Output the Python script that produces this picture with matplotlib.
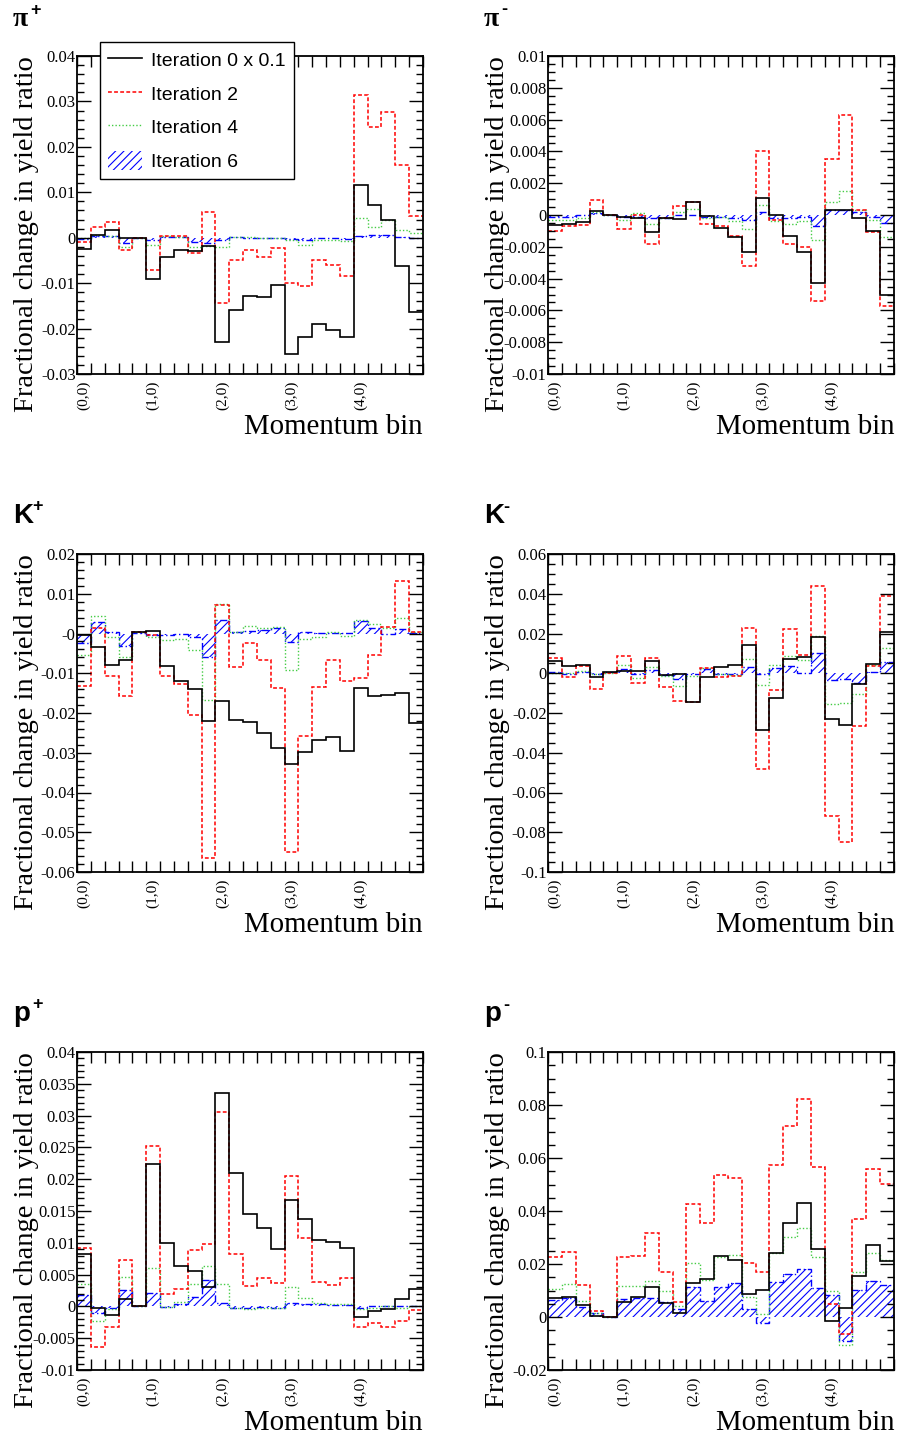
import numpy as np
import matplotlib
matplotlib.use('Agg')
import matplotlib.pyplot as plt
from matplotlib.ticker import MultipleLocator, FixedLocator, FixedFormatter
from matplotlib.patches import Patch
from matplotlib.lines import Line2D

plt.rcParams['hatch.linewidth'] = 0.8

# 25 momentum bins, labels on every fifth bin
edges = np.arange(26)
bin_labels = ['(0,0)', '(1,0)', '(2,0)', '(3,0)', '(4,0)']
label_pos = [0.5, 5.5, 10.5, 15.5, 20.5]

series_names = ['Iteration 0 x 0.1', 'Iteration 2', 'Iteration 4', 'Iteration 6']

# pi+
pip_it0 = [-0.0025, 0.0005, 0.0017, 0.0, 0.0, -0.0091, -0.0042, -0.0026, -0.003, -0.0018,
           -0.0229, -0.0159, -0.0129, -0.0131, -0.0103, -0.0255, -0.0218, -0.0189, -0.0203, -0.0218,
           0.0115, 0.0073, 0.004, -0.0062, -0.0163]
pip_it2 = [-0.001, 0.0024, 0.0035, -0.0026, 0.0, -0.0071, 0.0004, 0.0004, -0.0034, 0.0057,
           -0.0144, -0.0049, -0.0026, -0.0043, -0.0023, -0.0099, -0.0106, -0.0048, -0.006, -0.0085,
           0.0315, 0.0244, 0.0276, 0.016, 0.0048]
pip_it4 = [-0.0001, 0.0005, 0.0004, -0.002, 0.0, -0.0015, 0.0004, 0.0001, -0.002, -0.0018,
           -0.0021, 0.0002, 0.0001, 0.0, 0.0, -0.0005, -0.0017, -0.0005, -0.0005, -0.0007,
           0.0044, 0.0024, 0.0039, 0.0017, 0.001]
pip_it6 = [-0.0002, 0.0004, 0.0004, -0.0011, 0.0, -0.0005, 0.0002, 0.0001, -0.001, -0.0012,
           -0.0004, 0.0001, 0.0, 0.0, 0.0, -0.0002, -0.0004, -0.0001, -0.0001, -0.0002,
           0.0004, 0.0005, 0.0007, 0.0002, 0.0]

# pi-
pim_it0 = [-0.00063, -0.00055, -0.00044, 0.00027, 0.00002, -0.00015, -0.0002, -0.0011, -0.0002, -0.00027,
           0.00084, -0.00008, -0.00082, -0.0014, -0.0023, 0.00105, 0.0, -0.0013, -0.0023, -0.0043,
           0.0003, 0.0003, -0.0002, -0.001, -0.005]
pim_it2 = [-0.001, -0.0007, -0.0006, 0.00097, 0.0, -0.0009, 0.0, -0.0018, -0.0002, 0.00055,
           0.0008, -0.00055, -0.0007, -0.0013, -0.0032, 0.004, -0.00034, -0.0018, -0.002, -0.0054,
           0.0035, 0.0063, 0.0003, -0.0011, -0.0057]
pim_it4 = [-0.0003, -0.0003, -0.0002, 0.0002, 0.0, -0.00034, 0.0001, -0.00055, -0.0002, 0.0002,
           0.0004, -0.0002, -0.0001, -0.00036, -0.0009, 0.0006, -0.0004, -0.00055, -0.0004, -0.0016,
           0.00084, 0.0015, 0.0003, -0.00034, -0.0014]
pim_it6 = [-0.0001, -0.0001, 0.0, 0.0001, 0.0, -0.0001, -0.0001, -0.0002, -0.0002, 0.0,
           0.0, -0.0001, -0.0001, -0.0002, -0.00034, 0.0002, -0.0002, -0.0002, -0.0001, -0.0007,
           0.0003, 0.00034, 0.0002, -0.0001, -0.0005]

# K+
kp_it0 = [-0.0003, -0.0034, -0.0079, -0.0066, 0.0003, 0.0007, -0.0082, -0.012, -0.014, -0.022,
          -0.017, -0.0217, -0.0223, -0.025, -0.0289, -0.0328, -0.0297, -0.0269, -0.026, -0.0296,
          -0.0138, -0.0157, -0.0154, -0.015, -0.0224]
kp_it2 = [-0.0132, 0.0013, -0.0106, -0.0158, 0.0003, -0.0003, -0.0108, -0.0128, -0.0205, -0.0566,
          0.0071, -0.0085, -0.0023, -0.0066, -0.0136, -0.055, -0.0257, -0.0134, -0.0067, -0.012,
          -0.0113, -0.0055, 0.0017, 0.0131, 0.0003]
kp_it4 = [-0.0055, 0.0045, -0.001, -0.006, 0.0003, -0.0008, -0.0017, -0.0013, -0.0042, -0.0167,
          0.0074, 0.0004, 0.0019, 0.0013, 0.0017, -0.0092, -0.0015, -0.0008, 0.0003, -0.0006,
          0.0034, 0.0024, 0.0013, 0.0038, 0.0003]
kp_it6 = [-0.0023, 0.003, 0.0005, -0.0031, 0.0002, -0.0003, -0.0005, -0.0002, -0.001, -0.006,
          0.0034, 0.0003, 0.0007, 0.0008, 0.0015, -0.0021, 0.0003, 0.0002, 0.0002, 0.0001,
          0.0032, 0.0013, -0.0002, 0.0011, 0.0002]

# K-
km_it0 = [0.0062, 0.0035, 0.0044, -0.0019, 0.0007, 0.001, 0.001, 0.006, -0.001, -0.0002,
          -0.0145, -0.002, 0.0032, 0.004, 0.0141, -0.0286, -0.0123, 0.0072, 0.0083, 0.0184,
          -0.0229, -0.0259, -0.0052, 0.0047, 0.0209]
km_it2 = [0.0076, -0.0019, 0.0037, -0.0079, 0.0003, 0.0089, -0.0051, 0.0077, -0.0071, -0.0141,
          -0.0145, 0.0024, -0.0019, -0.0015, 0.0226, -0.048, -0.0083, 0.0221, 0.0094, 0.044,
          -0.0719, -0.0849, -0.0266, 0.0037, 0.0389]
km_it4 = [0.0003, 0.0002, 0.0012, -0.0002, 0.0003, 0.0042, -0.0022, 0.0029, -0.0015, -0.0066,
          -0.0013, 0.0027, -0.0002, -0.0007, 0.0071, -0.0057, 0.004, 0.0088, 0.0066, 0.0189,
          -0.0153, -0.0148, -0.0106, 0.0044, 0.0125]
km_it6 = [0.0007, -0.0002, 0.0005, -0.0003, 0.0005, 0.0019, -0.0003, 0.0015, -0.0008, -0.0027,
          -0.0002, 0.002, -0.0005, -0.0002, 0.0029, -0.0005, 0.0027, 0.0037, 0.0003, 0.0103,
          -0.0032, -0.0029, -0.0049, 0.0007, 0.0057]

# p+
pp_it0 = [0.0083, -0.0002, -0.0014, 0.0012, 0.0, 0.0224, 0.0099, 0.0064, 0.0055, 0.0031,
          0.0335, 0.0209, 0.0146, 0.0123, 0.0091, 0.0167, 0.0137, 0.0105, 0.0102, 0.0092,
          -0.0016, -0.0008, -0.0004, 0.0012, 0.0027]
pp_it2 = [0.0092, -0.0064, -0.0033, 0.0073, 0.0, 0.0252, 0.002, 0.0027, 0.0089, 0.0098,
          0.0306, 0.0083, 0.0032, 0.0045, 0.0037, 0.0205, 0.0108, 0.0039, 0.0034, 0.0044,
          -0.0033, -0.0026, -0.0032, -0.0023, -0.0005]
pp_it4 = [0.0035, -0.0023, -0.0004, 0.0046, 0.0, 0.006, -0.0001, 0.0007, 0.0035, 0.0064,
          0.0035, -0.0003, -0.0004, -0.0002, -0.0002, 0.0031, 0.0013, 0.0005, 0.0004, 0.0004,
          -0.0004, -0.0003, 0.0, -0.0003, 0.0]
pp_it6 = [0.0018, -0.0011, -0.0003, 0.0026, 0.0, 0.0021, -0.0001, 0.0004, 0.0014, 0.0042,
          0.0005, -0.0002, -0.0002, -0.0001, -0.0002, 0.0005, 0.0004, 0.0003, 0.0002, 0.0002,
          -0.0002, 0.0, 0.0, 0.0, 0.0]

# p-
pm_it0 = [0.0071, 0.0076, 0.0047, 0.0004, 0.0, 0.0058, 0.0076, 0.0115, 0.0052, 0.0016,
          0.013, 0.0145, 0.023, 0.0215, 0.0087, 0.0102, 0.024, 0.0354, 0.043, 0.0256,
          -0.0014, 0.0034, 0.0156, 0.0271, 0.0212]
pm_it2 = [0.0225, 0.0246, 0.0122, 0.0023, 0.0, 0.0225, 0.0232, 0.0316, 0.0171, 0.0058,
          0.0427, 0.0355, 0.0535, 0.0526, 0.0205, 0.0171, 0.0574, 0.0719, 0.0822, 0.0567,
          0.0048, -0.0064, 0.0368, 0.0557, 0.0503]
pm_it4 = [0.0107, 0.0123, 0.0062, 0.0014, 0.0, 0.0117, 0.0117, 0.0137, 0.0097, 0.0042,
          0.0203, 0.014, 0.0228, 0.0233, 0.0074, 0.0011, 0.024, 0.0301, 0.0335, 0.0228,
          0.0097, -0.0105, 0.0171, 0.024, 0.0214]
pm_it6 = [0.0064, 0.0073, 0.0038, 0.0014, 0.0, 0.0067, 0.0073, 0.0071, 0.0055, 0.0029,
          0.0115, 0.0062, 0.0115, 0.0127, 0.0029, -0.0024, 0.0131, 0.0162, 0.018, 0.0111,
          0.0082, -0.0089, 0.0102, 0.0136, 0.0121]

# (title base, superscript, series, ylim, major, minor, tick labels)
panels = [
    ('\u03c0', '+', [pip_it0, pip_it2, pip_it4, pip_it6], (-0.03, 0.04), 0.01, 0.002,
     ['-0.03', '-0.02', '-0.01', '0', '0.01', '0.02', '0.03', '0.04']),
    ('\u03c0', '-', [pim_it0, pim_it2, pim_it4, pim_it6], (-0.01, 0.01), 0.002, 0.0005,
     ['-0.01', '-0.008', '-0.006', '-0.004', '-0.002', '0', '0.002', '0.004', '0.006', '0.008', '0.01']),
    ('K', '+', [kp_it0, kp_it2, kp_it4, kp_it6], (-0.06, 0.02), 0.01, 0.002,
     ['-0.06', '-0.05', '-0.04', '-0.03', '-0.02', '-0.01', '-0', '0.01', '0.02']),
    ('K', '-', [km_it0, km_it2, km_it4, km_it6], (-0.1, 0.06), 0.02, 0.005,
     ['-0.1', '-0.08', '-0.06', '-0.04', '-0.02', '0', '0.02', '0.04', '0.06']),
    ('p', '+', [pp_it0, pp_it2, pp_it4, pp_it6], (-0.01, 0.04), 0.005, 0.001,
     ['-0.01', '-0.005', '0', '0.005', '0.01', '0.015', '0.02', '0.025', '0.03', '0.035', '0.04']),
    ('p', '-', [pm_it0, pm_it2, pm_it4, pm_it6], (-0.02, 0.1), 0.02, 0.005,
     ['-0.02', '0', '0.02', '0.04', '0.06', '0.08', '0.1']),
]

W, H = 898, 1440
fig = plt.figure(figsize=(W / 100, H / 100), dpi=100)
fig.patch.set_facecolor('white')

col_left = [77, 548]
row_top = [56, 554, 1052]
ax_w, ax_h = 346, 318

serif = 'Liberation Serif'
sans = 'Liberation Sans'
green = '#44cc44'

for i, (base, sup, data, ylim, major, minor, ylabels) in enumerate(panels):
    r, c = divmod(i, 2)
    x0 = col_left[c]
    y0 = row_top[r]
    ax = fig.add_axes([x0 / W, 1 - (y0 + ax_h) / H, ax_w / W, ax_h / H])

    it0, it2, it4, it6 = data
    ax.stairs(it6, edges, baseline=0, fill=True, facecolor='none', edgecolor='blue',
              hatch='////', linewidth=0)
    ax.stairs(it6, edges, baseline=None, color='blue', linestyle=(0, (5, 2, 1, 2)), linewidth=1.0)
    ax.stairs(it4, edges, baseline=None, color=green, linestyle=(0, (1, 1.5)), linewidth=1.0)
    ax.stairs(it2, edges, baseline=None, color='red', linestyle=(0, (2.5, 1.5)), linewidth=1.1)
    ax.stairs(it0, edges, baseline=None, color='black', linewidth=1.2)

    ax.set_xlim(0, 25)
    ax.set_ylim(*ylim)

    ax.xaxis.set_major_locator(FixedLocator(edges))
    ax.xaxis.set_major_formatter(FixedFormatter([''] * len(edges)))
    ax.xaxis.set_minor_locator(FixedLocator(label_pos))
    ax.xaxis.set_minor_formatter(FixedFormatter(bin_labels))
    ax.tick_params(axis='x', which='major', direction='in', top=True, bottom=True,
                   length=8, width=1.0)
    ax.tick_params(axis='x', which='minor', length=0, pad=5, labelrotation=90,
                   labelsize=11)
    for lab in ax.get_xticklabels(minor=True):
        lab.set_fontfamily(serif)

    ticks = np.round(np.arange(ylim[0], ylim[1] + major / 2, major), 6)
    ax.yaxis.set_major_locator(FixedLocator(ticks))
    ax.yaxis.set_major_formatter(FixedFormatter(ylabels))
    ax.yaxis.set_minor_locator(MultipleLocator(minor))
    ax.tick_params(axis='y', which='major', direction='in', left=True, right=True,
                   length=10, width=1.0, labelsize=12, pad=1)
    ax.tick_params(axis='y', which='minor', direction='in', left=True, right=True,
                   length=5, width=1.0)
    for lab in ax.get_yticklabels():
        lab.set_fontfamily(serif)

    for s in ax.spines.values():
        s.set_linewidth(1.3)

    # axis titles
    fig.text((x0 - 50) / W, 1 - (y0 + 178) / H, 'Fractional change in yield ratio',
             rotation=90, ha='center', va='center', fontsize=20.5, family=serif)
    fig.text((x0 + ax_w) / W, 1 - (y0 + 371) / H, 'Momentum bin',
             ha='right', va='center', fontsize=20.8, family=serif)

    # particle label
    tx = 13 if c == 0 else 484
    ty = y0 - 38
    if base == '\u03c0':
        fig.text(tx / W, 1 - (ty + 1) / H, base, ha='left', va='center',
                 fontsize=20, family=serif, fontweight='bold')
        fig.text((tx + 17) / W, 1 - (ty - 8) / H, sup, ha='left', va='center',
                 fontsize=13, family=sans, fontweight='bold')
    else:
        fig.text(tx / W, 1 - ty / H, base, ha='left', va='center',
                 fontsize=20, family=sans, fontweight='bold')
        fig.text((tx + 19) / W, 1 - (ty - 9) / H, sup, ha='left', va='center',
                 fontsize=13, family=sans, fontweight='bold')

    if i == 0:
        handles = [
            Line2D([], [], color='black', linewidth=1.2),
            Line2D([], [], color='red', linestyle=(0, (2.5, 1.5)), linewidth=1.1),
            Line2D([], [], color=green, linestyle=(0, (1, 1.5)), linewidth=1.0),
            Patch(facecolor='none', edgecolor='blue', hatch='////', linewidth=0),
        ]
        leg = ax.legend(handles, series_names, loc='upper left',
                        bbox_to_anchor=(100 / W, 1 - 42 / H), bbox_transform=fig.transFigure,
                        prop={'family': sans, 'size': 14}, frameon=True, fancybox=False,
                        edgecolor='black', framealpha=1, borderpad=0.42, labelspacing=0.7,
                        handlelength=1.75, handleheight=1.1, handletextpad=0.45,
                        borderaxespad=0)
        leg.get_frame().set_linewidth(1.0)

fig.savefig('out.png', dpi=100, facecolor='white')
